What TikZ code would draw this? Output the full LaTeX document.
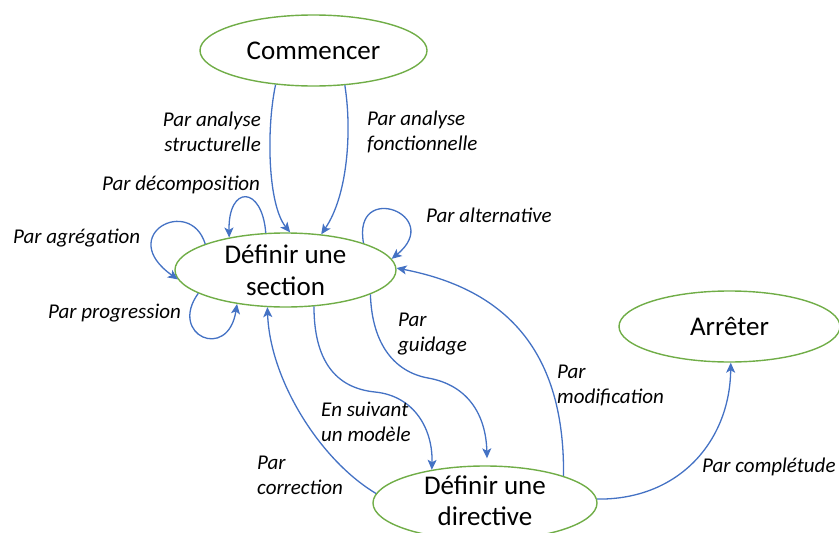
\documentclass[tikz,border=0pt]{standalone}
\usepackage{fontspec}
\setmainfont{Carlito}
\usetikzlibrary{shapes.geometric,arrows.meta}
\definecolor{edgeblue}{HTML}{4472C4}
\definecolor{nodegreen}{HTML}{70AD47}
\begin{document}
\begin{tikzpicture}[x=1pt,y=-1pt,
  state/.style={ellipse,draw=nodegreen,line width=1.4pt,inner sep=0pt,align=center,
    font=\fontsize{27}{32}\selectfont},
  lbl/.style={inner sep=0pt,font=\fontsize{21}{25}\selectfont\itshape},
  flow/.style={draw=edgeblue,line width=1.3pt,-{Stealth[length=10pt,width=9pt,inset=2.5pt]}}]
\useasboundingbox (0,0) rectangle (839,533);
\node[state,minimum width=227pt,minimum height=71pt] (C) at (313.5,50.5) {Commencer};
\node[state,minimum width=221pt,minimum height=74pt] (S) at (285.5,270) {Définir une\\section};
\node[state,minimum width=221pt,minimum height=71pt] (A) at (729.5,326.5) {Arrêter};
\node[state,minimum width=224pt,minimum height=74pt] (D) at (485,503) {};
\node[inner sep=0pt,align=center,font=\fontsize{27}{31}\selectfont] (Dt) at (485,501) {Définir une\\directive};

% Commencer -> section
\draw[flow] (C.222) .. controls (266,130) and (268,205) .. (S.83);
\draw[flow] (C.312) .. controls (352,130) and (348,195) .. (S.45);
% self loops
\draw[flow] (S.118) .. controls (262,185) and (228,185) .. (S.150);
\draw[flow] (S.162) .. controls (190,195) and (115,235) .. (S.185);
\draw[flow] (S.195) .. controls (168,335) and (228,362) .. (S.215);
\draw[flow] (S.19) .. controls (352,180) and (445,215) .. (S.6);
% section -> directive
\draw[flow] (S.308) .. controls (314,360) and (335,388) .. (375,392)
  .. controls (415,396) and (433,430) .. (D.148);
\draw[flow] (S.344) .. controls (372,345) and (395,372) .. (428,378)
  .. controls (468,385) and (486,415) .. ([xshift=2pt,yshift=7pt]D.north);
% directive -> section
\draw[flow] (D.19) .. controls (565,345) and (500,288) .. (S.1);
\draw[flow] (D.175) .. controls (320,460) and (270,380) .. (S.244);
% directive -> arreter
\draw[flow] (D.2) .. controls (680,500) and (730,440) .. (A.272);

% labels
\node[lbl,anchor=east,align=right] (l1) at (261,132) {Par analyse\\structurelle};
\node[lbl,anchor=west,align=left] (l2) at (367,132) {Par analyse\\fonctionnelle};
\node[lbl,anchor=west] (l3) at (102,185) {Par décomposition};
\node[lbl,anchor=west] (l4) at (13,238) {Par agrégation};
\node[lbl,anchor=west] (l5) at (48,313) {Par progression};
\node[lbl,anchor=west] (l6) at (426,215) {Par alternative};
\node[lbl,anchor=west,align=left] (l7) at (398,334) {Par\\guidage};
\node[lbl,anchor=west,align=left] (l8) at (557,385) {Par\\modification};
\node[lbl,anchor=west,align=left] (l9) at (321,422) {En suivant\\un modèle};
\node[lbl,anchor=west,align=left] (l10) at (257,475) {Par\\correction};
\node[lbl,anchor=west] (l11) at (702,467) {Par complétude};
\end{tikzpicture}
\end{document}
